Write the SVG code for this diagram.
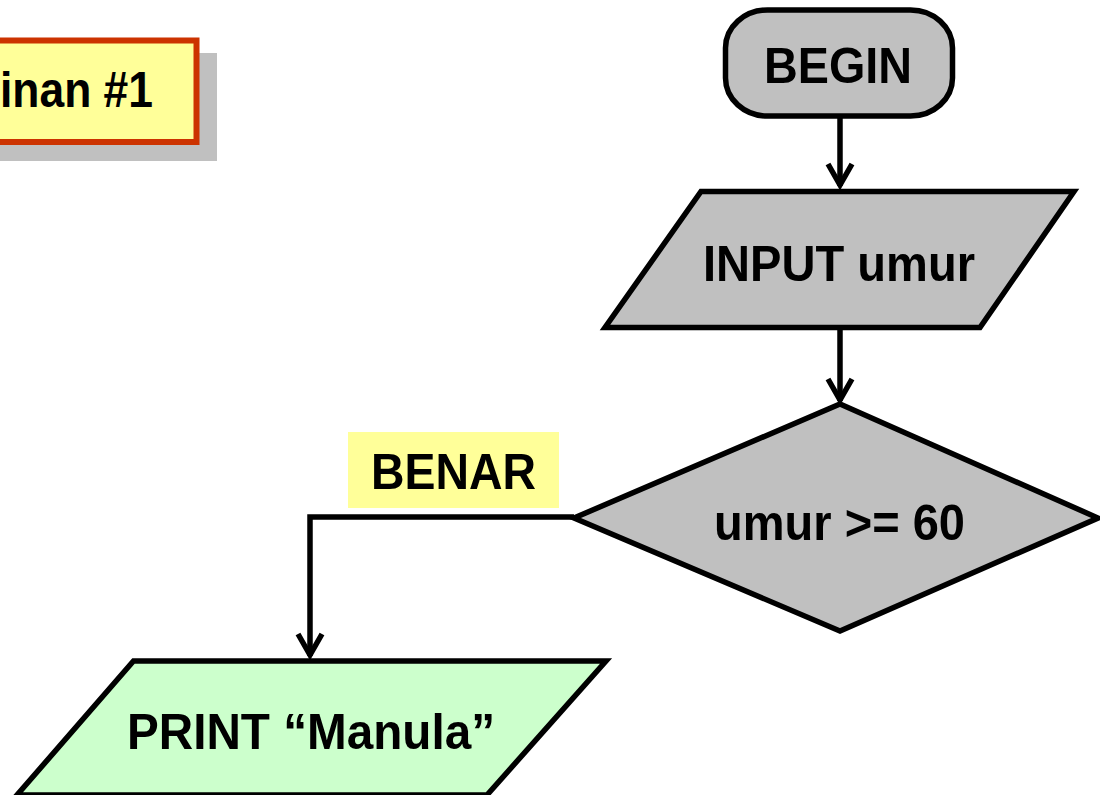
<svg xmlns="http://www.w3.org/2000/svg" width="1100" height="795" viewBox="0 0 1100 795">
  <defs>
    <style>
      .lbl { font-family: "Liberation Sans", Arial, sans-serif; font-weight: bold; font-size: 50px; fill: #000; }
      .shape { stroke: #000; stroke-width: 5.5; stroke-linejoin: miter; }
      .gray { fill: #C0C0C0; }
      .green { fill: #CCFFCC; }
      .conn { fill: none; stroke: #000; stroke-width: 5.5; }
    </style>
    <marker id="arr" markerUnits="userSpaceOnUse" markerWidth="40" markerHeight="40" viewBox="-30 -20 40 40" refX="0" refY="0" orient="auto">
      <path d="M-22,-12 L-1,0 L-22,12" fill="none" stroke="#000" stroke-width="5.5" stroke-linejoin="miter"/>
    </marker>
  </defs>

  <g id="title">
    <rect x="-5" y="53" width="222" height="108" fill="#C0C0C0"/>
    <rect x="-20" y="40.5" width="216.5" height="101.5" fill="#FFFF99" stroke="#CC3300" stroke-width="6"/>
    <text class="lbl" x="0" y="107" textLength="153" lengthAdjust="spacingAndGlyphs">inan #1</text>
  </g>

  <g id="connectors">
    <line class="conn" x1="840" y1="116" x2="840" y2="186" marker-end="url(#arr)"/>
    <line class="conn" x1="840" y1="329" x2="840" y2="401" marker-end="url(#arr)"/>
    <polyline class="conn" points="574,517 310,517 310,656" marker-end="url(#arr)"/>
  </g>

  <g id="begin">
    <rect class="shape gray" x="725.5" y="10" width="227" height="106" rx="42" ry="38"/>
    <text class="lbl" x="764" y="83" textLength="148" lengthAdjust="spacingAndGlyphs">BEGIN</text>
  </g>

  <g id="input">
    <polygon class="shape gray" points="701,191.5 1074,191.5 980,327.5 605,327.5"/>
    <text class="lbl" x="703" y="281" textLength="272" lengthAdjust="spacingAndGlyphs">INPUT umur</text>
  </g>

  <g id="decision">
    <polygon class="shape gray" points="840,404 1098,518 840,631 574,518"/>
    <text class="lbl" x="714" y="540" textLength="251" lengthAdjust="spacingAndGlyphs">umur &gt;= 60</text>
  </g>

  <g id="benar">
    <rect x="348" y="432" width="211" height="76" fill="#FFFF99"/>
    <text class="lbl" x="371" y="489" textLength="165" lengthAdjust="spacingAndGlyphs">BENAR</text>
  </g>

  <g id="print">
    <polygon class="shape green" points="133.5,661 606,661 487,795 17,795"/>
    <text class="lbl" x="127" y="749" textLength="368" lengthAdjust="spacingAndGlyphs">PRINT “Manula”</text>
  </g>
</svg>
